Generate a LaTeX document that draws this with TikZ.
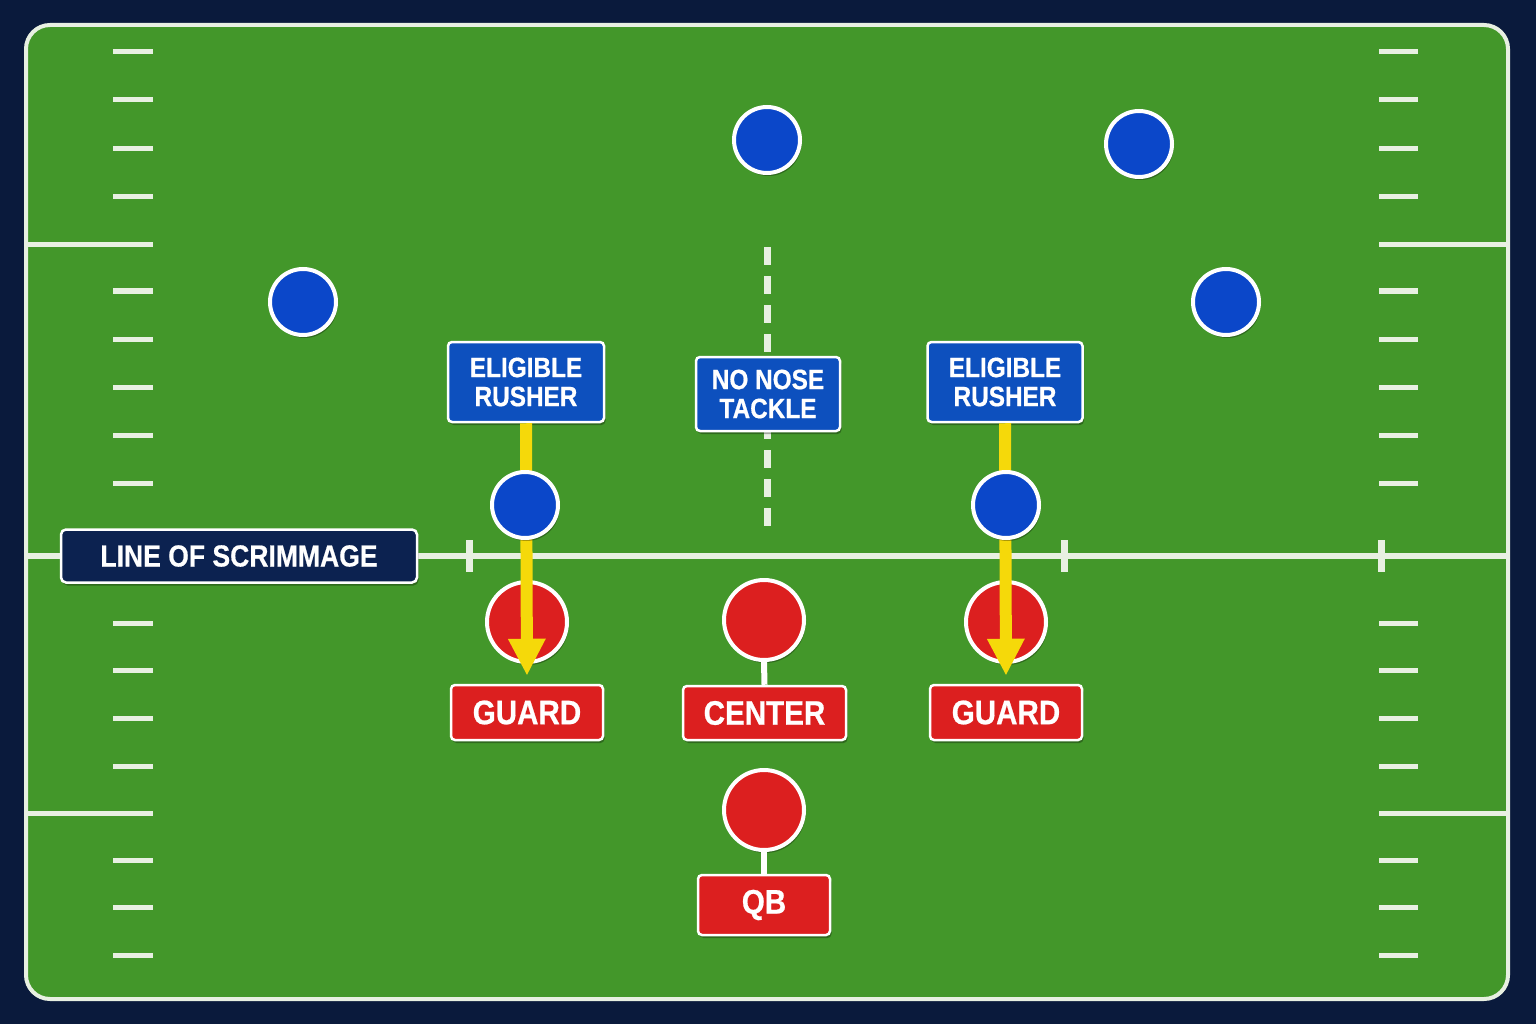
\documentclass[tikz,border=0pt]{standalone}
\usepackage{fontspec}
\usetikzlibrary{arrows.meta,shadows}
\newfontfamily\lblfont[FakeStretch=0.87,FakeBold=0.6]{Liberation Sans Bold}
\definecolor{bgnavy}{HTML}{0A1A3C}
\definecolor{turf}{HTML}{43972A}
\definecolor{chalk}{HTML}{E8F0E2}
\definecolor{dblue}{HTML}{0B47C9}
\definecolor{bblue}{HTML}{0D50BE}
\definecolor{pred}{HTML}{DC1F1F}
\definecolor{ryellow}{HTML}{F5D90A}
\definecolor{lnavy}{HTML}{0C2250}
\tikzset{
  hashmark/.style={chalk, line width=5pt},
  bigline/.style={chalk, line width=6pt},
  tickmark/.style={chalk, line width=7pt},
  softshadow/.style={drop shadow={shadow xshift=1.5pt, shadow yshift=-3pt, opacity=0.3, fill=black}},
  defender/.style={circle, minimum size=66pt, inner sep=0pt, fill=dblue, draw=white, line width=4pt, softshadow},
  offender/.style={circle, minimum size=80pt, inner sep=0pt, fill=pred, draw=white, line width=4pt, softshadow},
  bluebox/.style={rectangle, rounded corners=4pt, fill=bblue, draw=white, line width=2.5pt, text=white, align=center,
    inner sep=0pt, font=\lblfont\fontsize{28}{29}\selectfont, softshadow},
  redbox/.style={rectangle, rounded corners=4pt, fill=pred, draw=white, line width=2.5pt, text=white, align=center,
    inner sep=0pt, font=\lblfont\fontsize{34}{36}\selectfont, softshadow},
  losbox/.style={rectangle, rounded corners=5pt, fill=lnavy, draw=white, line width=2.5pt, text=white,
    inner sep=0pt, font=\lblfont\fontsize{30.5}{32}\selectfont, softshadow},
  rushpath/.style={ryellow, line width=12pt, -{Triangle[length=37pt, width=35pt]}},
  stem/.style={white, line width=6pt},
  centerdash/.style={chalk, line width=7pt, dash pattern=on 18pt off 11pt},
}
\begin{document}
\begin{tikzpicture}[x=1pt, y=-1pt]
\useasboundingbox (0,0) rectangle (1536,1024);
\fill[bgnavy] (0,0) rectangle (1536,1024);
% field
\draw[fill=turf, draw=chalk, line width=4pt, rounded corners=24pt] (26,25) rectangle (1508,999);
% hash marks
\foreach \yy in {52,100,149,197,291,339,387,435,483,623,670,718,766,860,907,955}{
  \draw[hashmark] (113,\yy) -- (153,\yy);
  \draw[hashmark] (1379,\yy) -- (1418,\yy);
}
\foreach \yy in {245,813}{
  \draw[hashmark] (28,\yy) -- (153,\yy);
  \draw[hashmark] (1379,\yy) -- (1506,\yy);
}
% line of scrimmage
\draw[bigline] (28,556) -- (1506,556);
\foreach \xx in {469,1064,1381}{
  \draw[tickmark] (\xx,540) -- (\xx,572);
}
% center dashed line
\draw[centerdash] (767,247) -- (767,526);
% labels
\node[losbox, minimum width=356pt, minimum height=53pt] (los) at (239,556) {LINE OF SCRIMMAGE};
\node[bluebox, minimum width=156pt, minimum height=80pt] (erl) at (526,382) {ELIGIBLE\\RUSHER};
\node[bluebox, minimum width=155pt, minimum height=80pt] (err) at (1005,382) {ELIGIBLE\\RUSHER};
\node[bluebox, minimum width=144pt, minimum height=74pt] (nnt) at (768,394) {NO NOSE\\TACKLE};
% offensive players
\node[offender] (lg) at (527,622) {};
\node[offender] (rg) at (1006,622) {};
\node[offender] (c) at (764,620) {};
\node[offender] (qb) at (764,810) {};
\node[redbox, minimum width=152pt, minimum height=55pt] (lgl) at (527,712.5) {GUARD};
\node[redbox, minimum width=152pt, minimum height=55pt] (rgl) at (1006,712.5) {GUARD};
\node[redbox, minimum width=163pt, minimum height=54pt] (cl) at (764.5,713) {CENTER};
\node[redbox, minimum width=132pt, minimum height=60pt] (qbl) at (764,905) {QB};
\draw[stem] (c.south) -- (cl.north);
\draw[stem] (qb.south) -- (qbl.north);
% rush arrows
\draw[rushpath, shorten >=8pt] (erl.south) -- (lgl.north);
\draw[rushpath, shorten >=8pt] (err.south) -- (rgl.north);
% defenders
\node[defender] (d1) at (767,140) {};
\node[defender] (d2) at (1139,144) {};
\node[defender] (d3) at (303,302) {};
\node[defender] (d4) at (1226,302) {};
\node[defender] (d5) at (525,505) {};
\node[defender] (d6) at (1006,505) {};
\end{tikzpicture}
\end{document}
